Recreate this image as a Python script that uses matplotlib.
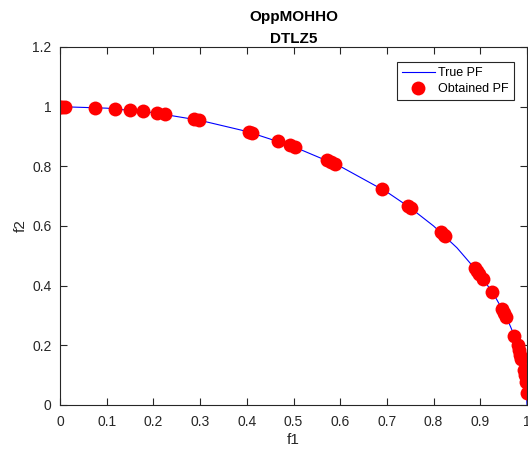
import matplotlib
matplotlib.use("Agg")
import matplotlib.pyplot as plt

plt.rcParams['font.family'] = ['Liberation Sans', 'DejaVu Sans']

# True Pareto front
true_f1 = [0.0, 0.1, 0.2, 0.3, 0.4, 0.5, 0.6, 0.7, 0.75, 0.8, 0.85, 0.9, 0.93, 0.95,
           0.96, 0.97, 0.98, 0.985, 0.99, 0.995, 0.998, 1.0]
true_f2 = [1.0, 0.995, 0.98, 0.954, 0.917, 0.866, 0.8, 0.714, 0.661, 0.6, 0.527, 0.436,
           0.368, 0.312, 0.280, 0.243, 0.199, 0.173, 0.141, 0.1, 0.063, 0.0]

# Obtained Pareto front points
obt_f1 = [0.0, 0.004, 0.01, 0.075, 0.118, 0.15, 0.178, 0.208, 0.225, 0.287, 0.298,
          0.405, 0.412, 0.467, 0.492, 0.503, 0.572, 0.58, 0.588, 0.69, 0.745, 0.752,
          0.815, 0.822, 0.825, 0.888, 0.893, 0.898, 0.906, 0.925, 0.947, 0.951, 0.955,
          0.973, 0.98, 0.983, 0.986, 0.988, 0.993, 0.995, 0.997, 0.999]
obt_f2 = [1.0, 1.0, 1.0, 0.997, 0.993, 0.989, 0.984, 0.978, 0.974, 0.958, 0.954,
          0.914, 0.911, 0.884, 0.870, 0.864, 0.820, 0.815, 0.809, 0.724, 0.667, 0.659,
          0.579, 0.570, 0.565, 0.460, 0.450, 0.440, 0.423, 0.380, 0.321, 0.309, 0.296,
          0.230, 0.200, 0.183, 0.167, 0.154, 0.118, 0.100, 0.077, 0.040]

xticks = [0, 0.1, 0.2, 0.3, 0.4, 0.5, 0.6, 0.7, 0.8, 0.9, 1]
yticks = [0, 0.2, 0.4, 0.6, 0.8, 1, 1.2]

fig = plt.figure(figsize=(5.28, 4.51), dpi=100)
ax = fig.add_axes([60/528, 46/451, 467/528, 358/451])

ax.plot(true_f1, true_f2, color='#0000ff', lw=0.8, label='True PF')
ax.plot(obt_f1, obt_f2, 'o', color='#ff0000', markersize=10, markeredgewidth=0,
        linestyle='none', label='Obtained PF')

ax.set_xlim(0, 1)
ax.set_ylim(0, 1.2)
ax.set_xticks(xticks)
ax.set_xticklabels(['0', '0.1', '0.2', '0.3', '0.4', '0.5', '0.6', '0.7', '0.8', '0.9', '1'])
ax.set_yticks(yticks)
ax.set_yticklabels(['0', '0.2', '0.4', '0.6', '0.8', '1', '1.2'])
ax.tick_params(direction='in', top=True, right=True, length=5, width=0.8,
               labelsize=10, colors='#262626')
ax.tick_params(axis='x', pad=7)
ax.tick_params(axis='y', pad=6)
for s in ax.spines.values():
    s.set_color('#262626')
    s.set_linewidth(0.8)

ax.set_xlabel('f1', fontsize=11, color='#262626', labelpad=3)
ax.set_ylabel('f2', fontsize=11, color='#262626', labelpad=3)
ax.set_title('OppMOHHO\nDTLZ5', fontsize=11, fontweight='bold', color='black', pad=3,
             linespacing=1.75)

leg = ax.legend(loc='upper right', bbox_to_anchor=(0.972, 0.958), fontsize=9,
                fancybox=False, framealpha=1, edgecolor='#262626', handlelength=2.6,
                handletextpad=0.3, borderpad=0.4, labelspacing=0.35, borderaxespad=0)
leg.get_frame().set_linewidth(0.8)

fig.savefig('out.png', dpi=100)
